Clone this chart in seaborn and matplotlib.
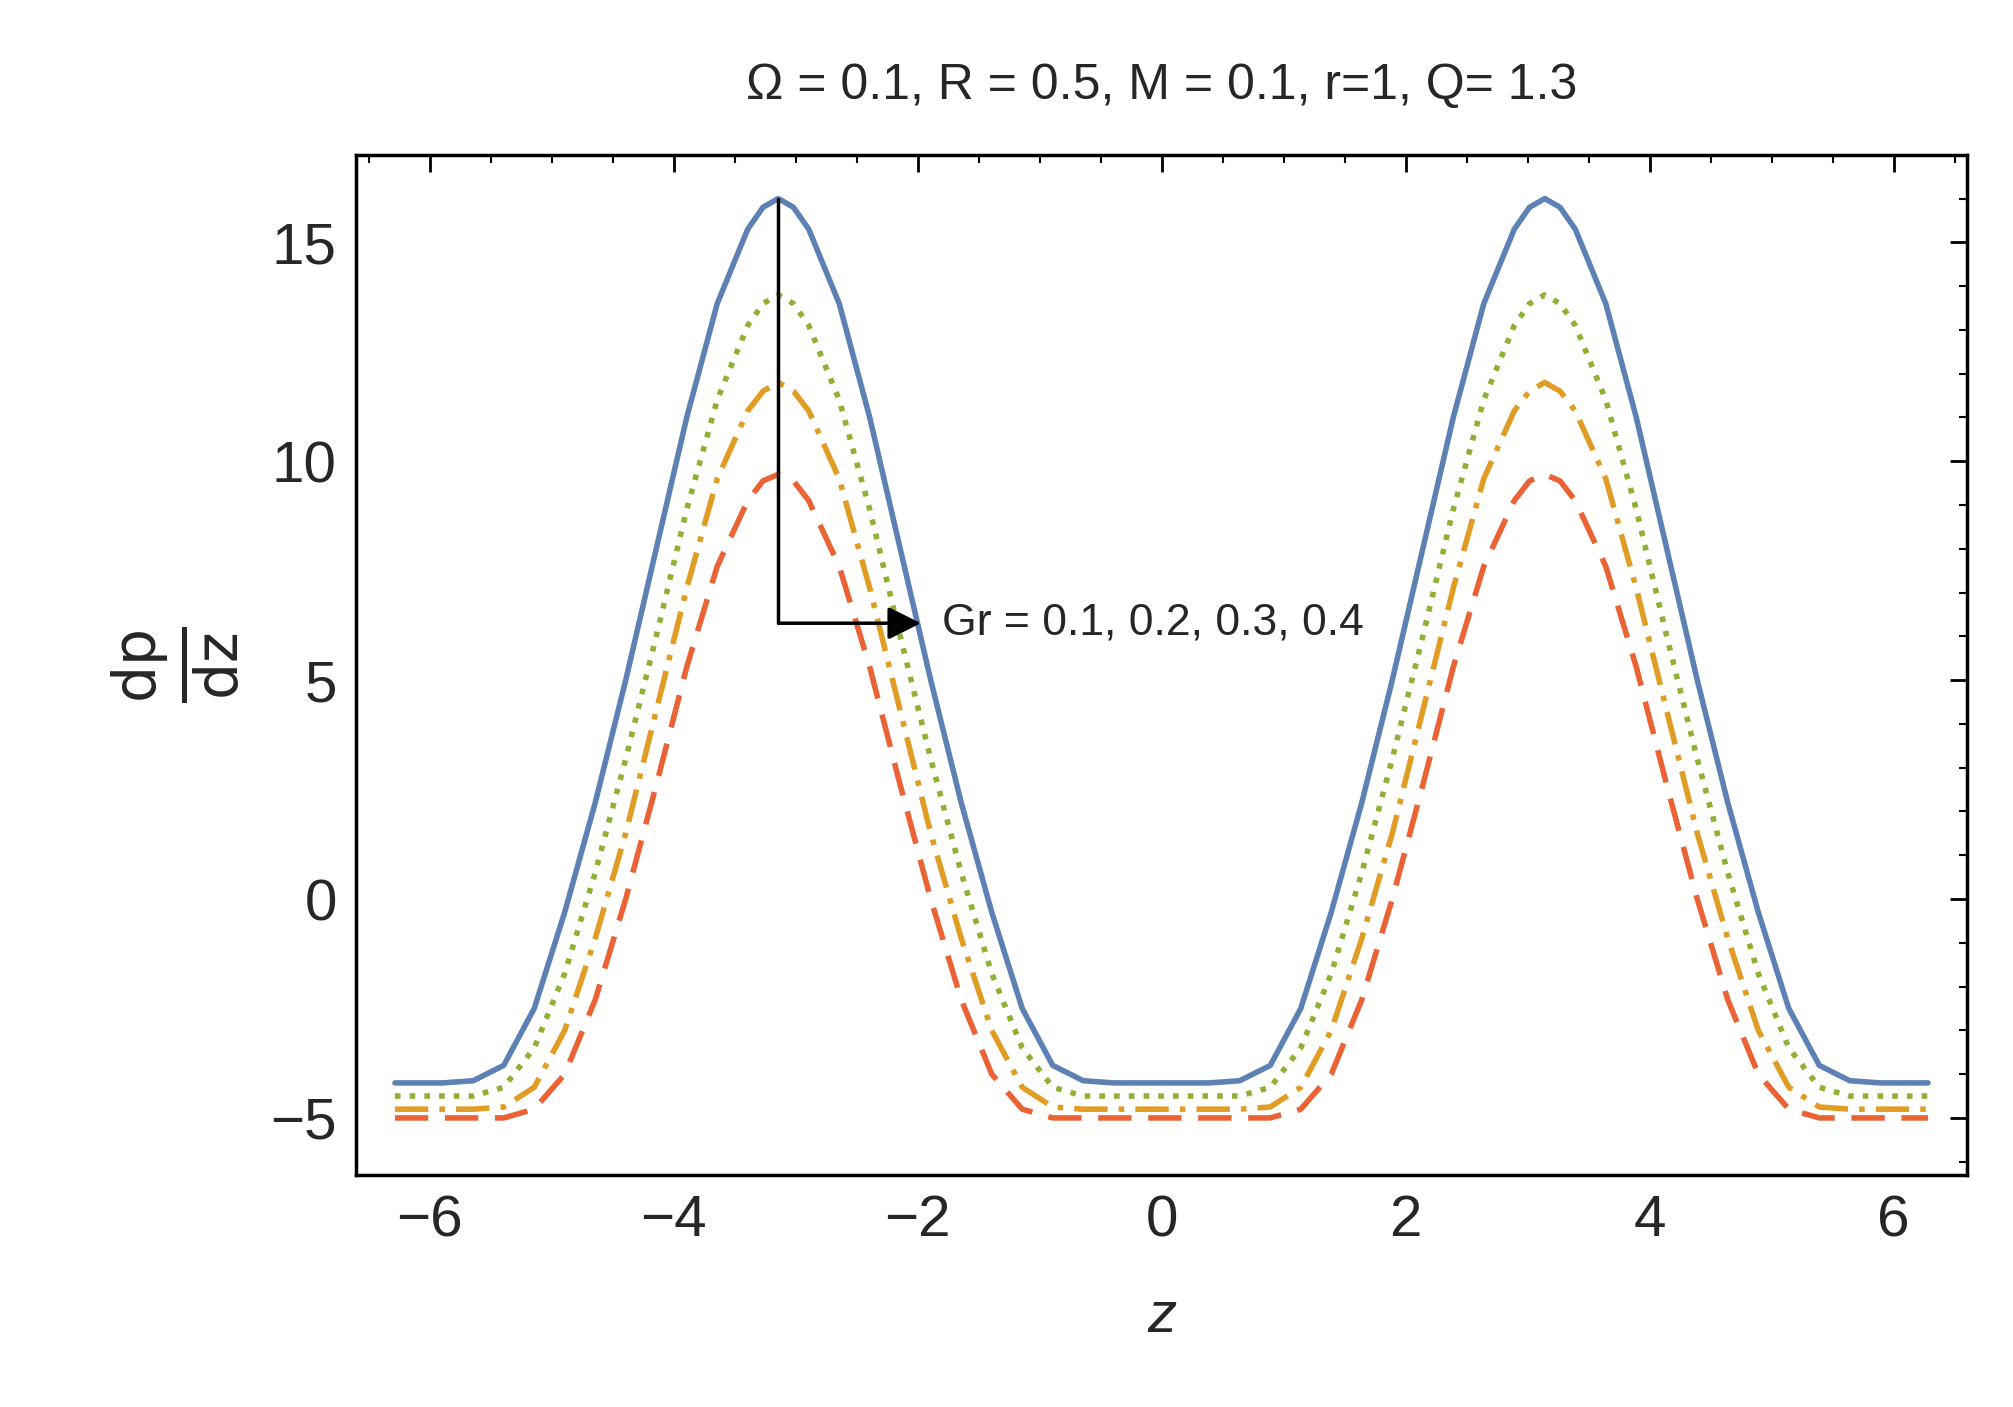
import numpy as np
import matplotlib.pyplot as plt
import seaborn as sns

sns.set_theme(style="white")
plt.rcParams['font.family'] = ['Liberation Sans', 'DejaVu Sans']

# distance from nearest peak (peaks at z = -pi, pi) and read-off curve heights
dist = [0.0, 0.125, 0.25, 0.5, 0.75, 1.0, 1.25, 1.5, 1.75, 2.0, 2.25, 2.5, 2.75, 3.1416]
gr_01 = [16.0, 15.8, 15.3, 13.6, 11.0, 8.0, 5.0, 2.2, -0.3, -2.5, -3.8, -4.15, -4.2, -4.2]
gr_02 = [13.8, 13.6, 13.1, 11.4, 8.9, 6.0, 3.2, 0.6, -1.7, -3.4, -4.3, -4.5, -4.5, -4.5]
gr_03 = [11.8, 11.6, 11.15, 9.6, 7.1, 4.3, 1.5, -0.9, -3.0, -4.3, -4.75, -4.8, -4.8, -4.8]
gr_04 = [9.7, 9.55, 9.1, 7.6, 5.3, 2.6, 0.0, -2.3, -4.0, -4.8, -5.0, -5.0, -5.0, -5.0]
peaks = [-np.pi, np.pi]

series = [
    (gr_01, "#5e81b5", "-"),
    (gr_02, "#8fb032", ":"),
    (gr_03, "#e19c24", (0, (6, 2, 1, 2))),
    (gr_04, "#eb6235", (0, (6, 3))),
]

fig = plt.figure(figsize=(20.13, 14.07), dpi=100)
ax = fig.add_axes([0.177, 0.165, 0.80, 0.725])

d = np.array(dist)
for vals, color, ls in series:
    v = np.array(vals)
    z = np.concatenate([peaks[0] - d[::-1], peaks[0] + d[1:], peaks[1] - d[::-1][1:], peaks[1] + d[1:]])
    y = np.concatenate([v[::-1], v[1:], v[::-1][1:], v[1:]])
    mask = (z >= -6.3) & (z <= 6.3)
    sns.lineplot(x=z[mask], y=y[mask], ax=ax, color=color, linestyle=ls, lw=4, estimator=None, sort=False)

ax.set_xlim(-6.6, 6.6)
ax.set_ylim(-6.3, 17.0)
ax.set_xticks([-6, -4, -2, 0, 2, 4, 6])
ax.set_xticklabels(["\u22126", "\u22124", "\u22122", "0", "2", "4", "6"])
ax.set_yticks([-5, 0, 5, 10, 15])
ax.set_yticklabels(["\u22125", "0", "5", "10", "15"])
ax.set_xticks(np.arange(-6.5, 6.6, 0.5), minor=True)
ax.set_yticks(np.arange(-6, 17, 1), minor=True)
ax.tick_params(which="both", direction="in", top=True, right=True, labelsize=42, color="black")
ax.tick_params(which="major", length=12, width=2, pad=14)
ax.tick_params(which="minor", length=6, width=1.5)
for s in ax.spines.values():
    s.set_color("black")
    s.set_linewidth(2.5)

ax.set_xlabel("z", fontsize=42, fontstyle="italic", labelpad=30)
ax.set_ylabel(r"$\frac{\mathrm{dp}}{\mathrm{dz}}$", fontsize=60, labelpad=20)
ax.set_title("\u03a9 = 0.1, R = 0.5, M = 0.1, r=1, Q= 1.3", fontsize=36, pad=40)

ax.plot([-3.14, -3.14], [16.0, 6.3], color="black", lw=2.5)
ax.annotate("", xy=(-1.95, 6.3), xytext=(-3.16, 6.3),
            arrowprops=dict(arrowstyle="-|>", color="black", lw=2.5, mutation_scale=50))
ax.text(-1.8, 6.3, "Gr = 0.1, 0.2, 0.3, 0.4", fontsize=32, va="center", ha="left")

fig.savefig("out.png", dpi=100)
